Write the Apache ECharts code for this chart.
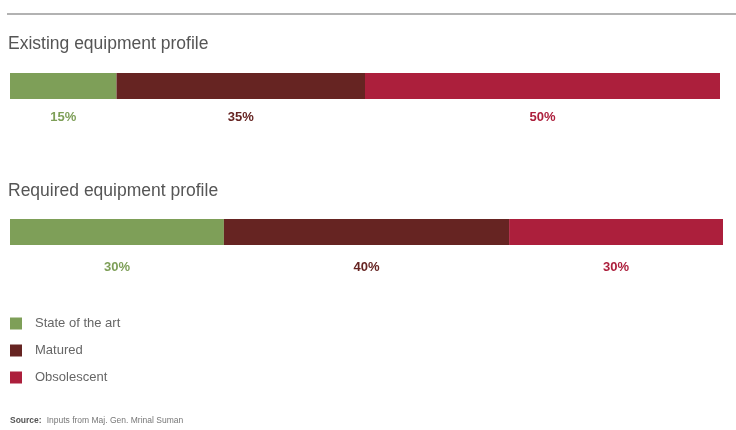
<!DOCTYPE html>
<html><head><meta charset="utf-8">
<script src="https://cdn.jsdelivr.net/npm/echarts@6/dist/echarts.min.js"></script>
<style>html,body{margin:0;padding:0;background:#fff}#c{width:736px;height:430px}</style>
</head><body><div id="c"></div>
<script>
const profiles = ['Existing equipment profile', 'Required equipment profile'];
const categories = ['State of the art', 'Matured', 'Obsolescent'];
const existingValues = [15, 35, 50];
const requiredValues = [30, 40, 30];
const colors = ['#7E9F58', '#662422', '#AC1F3C'];
const sourceText = 'Inputs from Maj. Gen. Mrinal Suman';

const FONT = '"Liberation Sans", Arial, sans-serif';
const chart = echarts.init(document.getElementById('c'), null, {renderer: 'canvas'});

function mkSeries(vals, gi, dist) {
  return categories.map((name, i) => ({
    name: name,
    type: 'bar',
    stack: 's' + gi,
    xAxisIndex: gi, yAxisIndex: gi,
    barWidth: 26,
    itemStyle: {color: colors[i]},
    label: {
      show: true, position: 'bottom', distance: dist,
      formatter: '{c}%', color: colors[i],
      fontFamily: FONT, fontWeight: 'bold', fontSize: 13
    },
    data: [vals[i]]
  }));
}

const option = {
  animation: false,
  title: [
    {text: profiles[0], left: 3, top: 30, textStyle: {fontFamily: FONT, fontSize: 17.5, fontWeight: 'normal', color: '#555'}},
    {text: profiles[1], left: 3, top: 177, textStyle: {fontFamily: FONT, fontSize: 17.5, fontWeight: 'normal', color: '#555'}},
    {text: '{b|Source:} {n|' + sourceText + '}', left: 5, top: 407,
     textStyle: {fontWeight: 'normal', rich: {b: {fontFamily: FONT, fontSize: 8.5, fontWeight: 'bold', color: '#555'}, n: {fontFamily: FONT, fontSize: 8.5, fontWeight: 'normal', color: '#777'}}}}
  ],
  graphic: [
    {type: 'line', shape: {x1: 7, y1: 14, x2: 736, y2: 14}, style: {stroke: '#999', lineWidth: 1.5}}
  ],
  legend: {
    orient: 'vertical', left: 5, top: 312, itemWidth: 12, itemHeight: 12, itemGap: 14,
    icon: 'rect', selectedMode: false,
    data: categories,
    textStyle: {fontFamily: FONT, fontSize: 13, color: '#666', padding: [0, 0, 0, 8]}
  },
  grid: [
    {left: 10, right: 16, top: 73, height: 26},
    {left: 10, right: 13, top: 219, height: 26}
  ],
  xAxis: [0, 1].map(g => ({type: 'value', gridIndex: g, min: 0, max: 100, show: false})),
  yAxis: [0, 1].map(g => ({type: 'category', gridIndex: g, data: [profiles[g]], show: false})),
  series: mkSeries(existingValues, 0, 12).concat(mkSeries(requiredValues, 1, 15.5))
};
chart.setOption(option);
</script>
</body></html>
